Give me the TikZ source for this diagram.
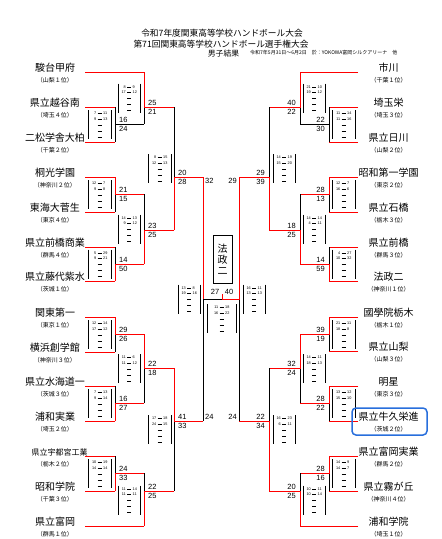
\documentclass[tikz,border=0pt]{standalone}
\usepackage{fontspec}
\setmainfont{Noto Sans CJK JP}
\newfontfamily\numfont{Liberation Sans}
\tikzset{
  nm/.style={font=\fontsize{10}{10}\selectfont, inner sep=0pt},
  subt/.style={font=\fontsize{6}{6}\selectfont, inner sep=0pt},
  sc/.style={font=\numfont\fontsize{7.5}{7.5}\selectfont, inner sep=0pt},
  bxt/.style={font=\numfont\fontsize{3.8}{3.8}\selectfont, inner sep=0pt},
  rl/.style={draw=red, line width=0.9pt},
  bl/.style={draw=black, line width=0.8pt},
  bxl/.style={draw=black, line width=1pt},
}
\newcommand{\teamL}[5]{%
  \node[nm] (#1) at (55,{#2-4.5}) {#4};
  \node[subt] (#1s) at (55,{#2+8}) {#5};
  \coordinate (#1a) at (85,#2);
  \coordinate (#1b) at (#3,#2);
  \draw[rl] (#1a) -- (#1b);
}
\newcommand{\teamR}[5]{%
  \node[nm] (#1) at (388.5,{#2-4.5}) {#4};
  \node[subt] (#1s) at (388.5,{#2+8}) {#5};
  \coordinate (#1a) at (358,#2);
  \coordinate (#1b) at (#3,#2);
  \draw[rl] (#1a) -- (#1b);
}
\newcommand{\brk}[5]{%
  \draw[bl] (#1,#3) -- (#1,#4);
  \draw[rl] (#1,#2) -- (#1,#4) -- (#5,#4);
}
\newcommand{\brkb}[4]{%
  \draw[bl] (#1,#2) -- (#1,#3);
  \draw[bl] (#1,{(#2+#3)/2}) -- (#4,{(#2+#3)/2});
}
\newcommand{\scL}[4]{%
  \node[sc,anchor=west] at ({#1+4},{#2-4.5}) {#3};
  \node[sc,anchor=west] at ({#1+4},{#2+4.5}) {#4};
}
\newcommand{\scR}[4]{%
  \node[sc,anchor=east] at ({#1-4},{#2-4.5}) {#3};
  \node[sc,anchor=east] at ({#1-4},{#2+4.5}) {#4};
}
\newcommand{\scbox}[7]{%
  \pgfmathsetmacro\myCx{(#1+#2)/2}
  \pgfmathsetmacro\myYt{#3-14.5}
  \draw[bxl] (#1,\myYt) -- ++(0,29);
  \draw[bxl] (#2,\myYt) -- ++(0,29);
  \node[bxt,anchor=east] at ({\myCx-3},{\myYt+3.5}) {#4};
  \node[bxt,anchor=west] at ({\myCx+3.5},{\myYt+3.5}) {#5};
  \node[bxt,anchor=east] at ({\myCx-3},{\myYt+9}) {#6};
  \node[bxt,anchor=west] at ({\myCx+3.5},{\myYt+9}) {#7};
  \foreach \r in {3.5,9,15,21,27} \draw[line width=0.5pt] ({\myCx-2},{\myYt+\r}) -- ({\myCx+2},{\myYt+\r});
}
\begin{document}
\begin{tikzpicture}[x=1pt,y=-1pt]
\path[use as bounding box] (0,0) rectangle (442,539);
% header
\node[inner sep=0pt,font=\fontsize{8.7}{8.7}\selectfont] (h1) at (222,33) {令和7年度関東高等学校ハンドボール大会};
\node[inner sep=0pt,font=\fontsize{8.7}{8.7}\selectfont] (h2) at (221,44) {第71回関東高等学校ハンドボール選手権大会};
\node[inner sep=0pt,font=\fontsize{7.8}{7.8}\selectfont] (h3) at (223.5,53.5) {男子結果};
\node[inner sep=0pt,anchor=west,font=\fontsize{5}{5}\selectfont] (h4) at (250,53) {令和7年5月31日～6月2日　於：YOKOWA富岡シルクアリーナ　他};
% left teams
\teamL{L1}{72}{144}{駿台甲府}{（山梨１位）}
\teamL{L2}{107}{115}{県立越谷南}{（埼玉４位）}
\teamL{L3}{142}{115}{二松学舎大柏}{（千葉２位）}
\teamL{L4}{177}{115}{桐光学園}{（神奈川２位）}
\teamL{L5}{212}{115}{東海大菅生}{（東京４位）}
\teamL{L6}{247}{115}{県立前橋商業}{（群馬４位）}
\teamL{L7}{281}{115}{県立藤代紫水}{（茨城１位）}
\teamL{L8}{317}{115}{関東第一}{（東京１位）}
\teamL{L9}{352}{115}{横浜創学館}{（神奈川３位）}
\teamL{L10}{386}{115}{県立水海道一}{（茨城３位）}
\teamL{L11}{421}{115}{浦和実業}{（埼玉２位）}
\node[inner sep=0pt,font=\fontsize{8}{8}\selectfont] (L12) at (59.5,452) {県立宇都宮工業};
\node[subt] (L12s) at (55,464) {（栃木２位）};
\draw[rl] (85,456) -- (115,456);
\teamL{L13}{491}{115}{昭和学院}{（千葉３位）}
\teamL{L14}{526}{144}{県立富岡}{（群馬１位）}
% right teams
\teamR{R1}{72}{300}{市川}{（千葉１位）}
\teamR{R2}{107}{329}{埼玉栄}{（埼玉３位）}
\teamR{R3}{142}{329}{県立日川}{（山梨２位）}
\teamR{R4}{177}{329}{昭和第一学園}{（東京２位）}
\teamR{R5}{212}{329}{県立石橋}{（栃木３位）}
\teamR{R6}{247}{329}{県立前橋}{（群馬３位）}
\teamR{R7}{281}{329}{法政二}{（神奈川１位）}
\teamR{R8}{317}{329}{國學院栃木}{（栃木１位）}
\teamR{R9}{351}{329}{県立山梨}{（山梨３位）}
\teamR{R10}{386}{329}{明星}{（東京３位）}
\teamR{R11}{421}{329}{県立牛久栄進}{（茨城２位）}
\teamR{R12}{456}{329}{県立富岡実業}{（群馬２位）}
\teamR{R13}{491}{329}{県立霧が丘}{（神奈川４位）}
\teamR{R14}{526}{300}{浦和学院}{（埼玉１位）}
% left brackets
\brkb{115}{107}{142}{144}
\brk{115}{177}{212}{194}{144}
\brk{115}{281}{247}{264}{144}
\brk{144}{72}{124}{107}{174}
\brk{144}{264}{194}{230}{174}
\brk{174}{230}{107}{177}{203}
\brk{115}{317}{352}{334}{144}
\brk{115}{421}{386}{403}{144}
\brk{115}{491}{456}{473}{144}
\brk{144}{334}{403}{368}{174}
\brk{144}{526}{473}{491}{174}
\brk{174}{368}{491}{421}{203}
% right brackets
\brkb{329}{107}{142}{300}
\brk{329}{177}{212}{194}{300}
\brk{329}{281}{247}{264}{300}
\brk{300}{72}{124}{107}{269}
\brk{300}{264}{194}{230}{269}
\brk{269}{230}{107}{177}{239}
\brk{329}{317}{351}{334}{300}
\brk{329}{386}{421}{403}{300}
\brk{329}{456}{491}{473}{300}
\brk{300}{334}{403}{368}{269}
\brk{300}{526}{473}{491}{269}
\brk{269}{491}{368}{421}{239}
% semifinals and final
\draw[rl] (203,177) -- (203,299);
\draw[bl] (203,421) -- (203,299) -- (222,299);
\draw[bl] (239,421) -- (239,299);
\draw[rl] (239,177) -- (239,299) -- (222,299) -- (222,294);
% scores
\scL{115}{124.5}{16}{24} \scL{115}{194}{21}{15} \scL{115}{264}{14}{50}
\scL{144}{107}{25}{21} \scL{144}{230}{23}{25} \scL{174}{177}{20}{28}
\scL{115}{334}{29}{26} \scL{115}{403}{16}{27} \scL{115}{473}{24}{33}
\scL{144}{368}{22}{18} \scL{144}{491}{22}{25} \scL{174}{421}{41}{33}
\scR{329}{124.5}{22}{30} \scR{329}{194}{28}{13} \scR{329}{264}{14}{59}
\scR{300}{107}{40}{22} \scR{300}{230}{18}{25} \scR{269}{177}{29}{39}
\scR{329}{334}{39}{19} \scR{329}{403}{28}{22} \scR{329}{473}{28}{16}
\scR{300}{368}{32}{24} \scR{300}{491}{20}{25} \scR{269}{421}{22}{34}
\node[sc,anchor=west] at (205,181) {32};
\node[sc,anchor=west] at (205,417) {24};
\node[sc,anchor=east] at (237,181) {29};
\node[sc,anchor=east] at (237,417) {24};
\node[sc] at (215,292) {27};
\node[sc] at (229,292) {40};
% score boxes
\scbox{88}{111}{124.5}{7}{11}{9}{13}
\scbox{88}{111}{194.5}{12}{7}{9}{8}
\scbox{88}{111}{264}{5}{29}{9}{21}
\scbox{118}{140}{98}{8}{9}{17}{12}
\scbox{118}{140}{229}{14}{13}{9}{12}
\scbox{148}{171}{168.5}{8}{15}{12}{13}
\scbox{88}{111}{334.5}{12}{14}{17}{12}
\scbox{88}{111}{403.5}{7}{13}{9}{14}
\scbox{88}{111}{473.5}{10}{19}{14}{14}
\scbox{118}{140}{368.5}{11}{6}{11}{12}
\scbox{118}{140}{500}{11}{14}{11}{11}
\scbox{148}{171}{429.5}{17}{18}{24}{15}
\scbox{178}{200}{299}{13}{8}{19}{16}
\scbox{207}{236}{318.5}{11}{18}{16}{22}
\scbox{243}{265}{299}{16}{11}{13}{13}
\scbox{332}{355}{124.5}{11}{14}{11}{16}
\scbox{332}{355}{194.5}{12}{7}{16}{6}
\scbox{332}{355}{264}{4}{27}{10}{32}
\scbox{303}{325}{98}{21}{10}{19}{12}
\scbox{303}{325}{229}{14}{14}{4}{11}
\scbox{273}{295}{168.5}{14}{19}{15}{20}
\scbox{332}{355}{334.5}{21}{11}{18}{8}
\scbox{332}{355}{403.5}{13}{12}{15}{10}
\scbox{332}{355}{473.5}{14}{9}{14}{7}
\scbox{303}{325}{368.5}{14}{11}{18}{13}
\scbox{303}{325}{500}{10}{11}{10}{14}
\scbox{273}{295}{429.5}{16}{23}{6}{11}
% champion
\node[draw,line width=0.8pt,minimum width=19pt,minimum height=48pt,inner sep=0pt,align=center,font=\fontsize{10}{11}\selectfont] (champ) at (222.5,259) {法\\政\\二};
% highlight
\draw[draw={rgb,255:red,40;green,110;blue,220},line width=1.5pt,rounded corners=4pt] (352,408) rectangle (427,435);
\end{tikzpicture}
\end{document}
